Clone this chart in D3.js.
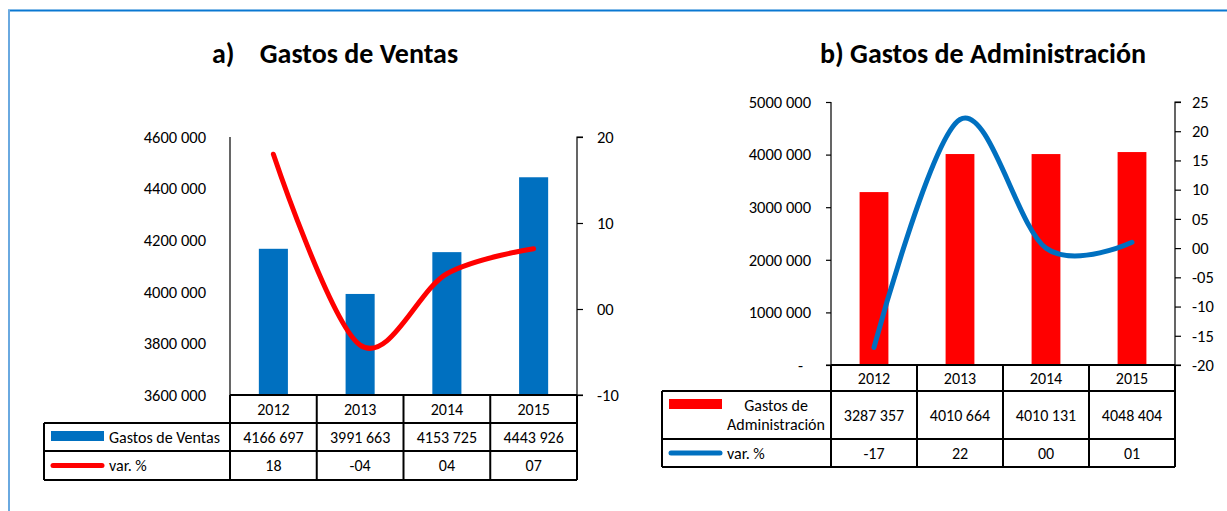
<!DOCTYPE html>
<html><head><meta charset="utf-8">
<script src="https://cdn.jsdelivr.net/npm/d3@7"></script>
<style>
body{margin:0;background:#fff;}
svg{display:block;font-family:Carlito,Calibri,Lato,sans-serif;}
</style></head><body>
<svg id="c" width="1227" height="511"></svg>
<script>
const years = ["2012", "2013", "2014", "2015"];
const ventas = [4166697, 3991663, 4153725, 4443926];
const ventasVar = [18, -4.2, 4.1, 7.0];
const admin = [3287357, 4010664, 4010131, 4048404];
const adminVar = [-17, 22, 0, 1];
const ventasTicks = [3600000, 3800000, 4000000, 4200000, 4400000, 4600000];
const ventasVarTicks = [-10, 0, 10, 20];
const adminTicks = [0, 1000000, 2000000, 3000000, 4000000, 5000000];
const adminVarTicks = [-20, -15, -10, -5, 0, 5, 10, 15, 20, 25];
const titleA = "a)    Gastos de Ventas";
const titleB = "b) Gastos de Administración";
const barNameA = ["Gastos de Ventas"];
const barNameB = ["Gastos de", "Administración"];
const lineName = "var. %";

const svg = d3.select("#c");
// frame
svg.append("line").attr("x1", 8).attr("x2", 1227).attr("y1", 10.5).attr("y2", 10.5)
  .attr("stroke", "#0a78d2").attr("stroke-width", 2);
svg.append("line").attr("x1", 9).attr("x2", 9).attr("y1", 10).attr("y2", 511)
  .attr("stroke", "#6aa9e0").attr("stroke-width", 2);

const fmtBig = v => v === 0 ? "-" : Math.floor(v / 1000) + " " + String(Math.round(v % 1000)).padStart(3, "0");
const fmtPct = v => { const r = Math.round(v); return (r < 0 ? "-" : "") + String(Math.abs(r)).padStart(2, "0"); };

const AX = 16.5, TB = 16;

function panel(c) {
  const g = svg.append("g");
  g.append("text").attr("x", c.titleX).attr("y", 63).attr("text-anchor", "middle")
    .style("white-space", "pre").attr("font-weight", "bold").attr("font-size", 28).text(c.title);

  const x = d3.scaleBand().domain(years).range([c.x0, c.x1]);
  const yL = d3.scaleLinear().domain(c.yDom).range([c.bottom, c.top]);
  const yR = d3.scaleLinear().domain(c.rDom).range([c.bottom, c.top]);

  // bars
  const bw = x.bandwidth() * 0.335;
  g.selectAll("rect.bar").data(c.bars).join("rect").attr("class", "bar")
    .attr("x", (d, i) => x(years[i]) + (x.bandwidth() - bw) / 2)
    .attr("width", bw)
    .attr("y", d => yL(d)).attr("height", d => yL(c.yDom[0]) - yL(d))
    .attr("fill", c.barColor);

  // left axis
  const la = g.append("g").attr("transform", `translate(${c.x0},0)`)
    .call(d3.axisLeft(yL).tickValues(c.yTicks).tickFormat(fmtBig).tickSize(c.lTick).tickPadding(c.lPad));
  la.attr("font-family", null).attr("font-size", null);
  la.selectAll("path,line").attr("stroke", "#000").attr("stroke-width", 1.2);
  la.select("path").attr("d", `M${-c.lTick},${c.bottom}H0V${c.top}`);
  la.selectAll("text").attr("font-size", AX).attr("fill", "#000");
  la.selectAll(".tick text").filter(d => d === 0).attr("dx", -8);

  // right axis
  const ra = g.append("g").attr("transform", `translate(${c.x1},0)`)
    .call(d3.axisRight(yR).tickValues(c.rTicks).tickFormat(fmtPct).tickSize(6).tickPadding(c.rPad));
  ra.attr("font-family", null).attr("font-size", null);
  ra.selectAll("path,line").attr("stroke", "#000").attr("stroke-width", 1.2);
  ra.select("path").attr("d", `M6,${c.top}H0V${c.bottom}H6`);
  ra.selectAll("text").attr("font-size", AX).attr("fill", "#000");

  // line
  const line = d3.line().x((d, i) => x(years[i]) + x.bandwidth() / 2).y(d => yR(d))
    .curve(d3.curveCatmullRom.alpha(0));
  g.append("path").datum(c.vars).attr("d", line).attr("fill", "none")
    .attr("stroke", c.lineColor).attr("stroke-width", 5).attr("stroke-linecap", "round");

  // table
  const r = c.rows;
  const t = g.append("g").attr("stroke", "#000").attr("stroke-width", 2);
  t.append("line").attr("x1", c.x0).attr("x2", c.x1).attr("y1", r[0]).attr("y2", r[0]);
  [1, 2, 3].forEach(k => t.append("line").attr("x1", c.tl).attr("x2", c.x1).attr("y1", r[k]).attr("y2", r[k]));
  t.append("line").attr("x1", c.tl).attr("x2", c.tl).attr("y1", r[1]).attr("y2", r[3]);
  years.forEach(yr => t.append("line").attr("x1", x(yr)).attr("x2", x(yr)).attr("y1", r[0]).attr("y2", r[3]));
  t.append("line").attr("x1", c.x1).attr("x2", c.x1).attr("y1", r[0]).attr("y2", r[3]);

  const cell = (txt, cx, cy) => g.append("text").attr("x", cx).attr("y", cy).attr("text-anchor", "middle")
    .attr("dominant-baseline", "central").attr("font-size", TB).text(txt);
  years.forEach((yr, i) => {
    const cx = x(yr) + x.bandwidth() / 2;
    cell(yr, cx, (r[0] + r[1]) / 2);
    cell(fmtBig(c.bars[i]), cx, (r[1] + r[2]) / 2);
    cell(fmtPct(c.vars[i]), cx, (r[2] + r[3]) / 2);
  });

  // legend keys
  g.append("rect").attr("x", c.tl + 7).attr("y", c.swY - 5).attr("width", 53).attr("height", 10).attr("fill", c.barColor);
  g.append("line").attr("x1", c.tl + 9).attr("x2", c.tl + 58).attr("y1", (r[2] + r[3]) / 2).attr("y2", (r[2] + r[3]) / 2)
    .attr("stroke", c.lineColor).attr("stroke-width", 5).attr("stroke-linecap", "round");
  const nm = g.append("text").attr("font-size", TB).attr("text-anchor", c.nameAnchor);
  c.barName.forEach((s, i) => nm.append("tspan").attr("x", c.nameX)
    .attr("y", (r[1] + r[2]) / 2 + 5.5 + (i - (c.barName.length - 1) / 2) * 19).text(s));
  g.append("text").attr("x", c.tl + 65).attr("y", (r[2] + r[3]) / 2 + 5.5).attr("font-size", TB).text(lineName);
}

panel({
  title: titleA, titleX: 335, x0: 230, x1: 577, top: 137, bottom: 395,
  yDom: [3600000, 4600000], yTicks: ventasTicks, rDom: [-10, 20], rTicks: ventasVarTicks,
  lTick: 0, lPad: 24, rPad: 14,
  bars: ventas, vars: ventasVar, barColor: "#0070C0", lineColor: "#FF0000",
  rows: [395, 423, 451, 480], tl: 44, swY: 436, barName: barNameA, nameAnchor: "start", nameX: 109
});
panel({
  title: titleB, titleX: 983, x0: 831, x1: 1175, top: 102, bottom: 365,
  yDom: [0, 5000000], yTicks: adminTicks, rDom: [-20, 25], rTicks: adminVarTicks,
  lTick: 5, lPad: 15, rPad: 11,
  bars: admin, vars: adminVar, barColor: "#FF0000", lineColor: "#0070C0",
  rows: [365, 391, 439, 467], tl: 662, swY: 404, barName: barNameB, nameAnchor: "middle", nameX: 776
});
</script></body></html>
